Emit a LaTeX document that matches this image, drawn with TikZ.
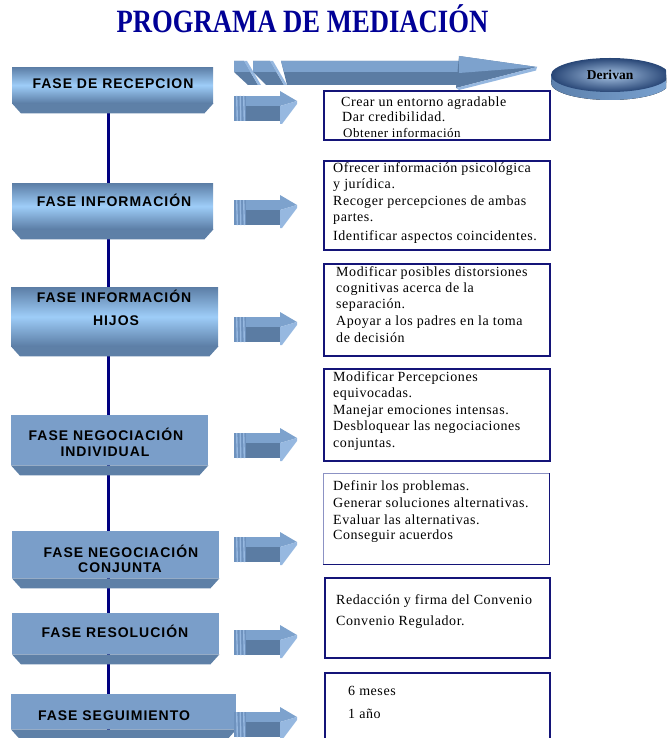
\documentclass[tikz,border=0pt]{standalone}
\usepackage{fontspec}
\setmainfont{Liberation Serif}
\newfontfamily\phasefont{Liberation Sans}[LetterSpace=7]
\newfontfamily\notefont{Liberation Serif}[LetterSpace=4]
\usetikzlibrary{backgrounds,shapes.geometric}

\definecolor{navyline}{RGB}{0,0,128}
\definecolor{titleblue}{RGB}{0,0,150}
\definecolor{slabdark}{RGB}{92,126,166}
\definecolor{slablight}{RGB}{158,205,248}
\definecolor{slabflat}{RGB}{122,158,201}
\definecolor{bevelcol}{RGB}{94,128,167}
\definecolor{arrlight}{RGB}{125,162,205}
\definecolor{arrmid}{RGB}{110,146,190}
\definecolor{arrdark}{RGB}{91,124,163}
\definecolor{arrpale}{RGB}{150,184,224}
\definecolor{boxline}{RGB}{20,20,120}
\definecolor{boxsoft}{RGB}{140,146,196}
\definecolor{discdark}{RGB}{40,70,118}
\definecolor{disclight}{RGB}{168,196,228}
\definecolor{discside}{RGB}{122,162,208}
\definecolor{discsidedark}{RGB}{92,128,172}

\tikzset{
  slab/.style={inner sep=0pt, anchor=north west},
  glossy/.style={slab, top color=slabdark, bottom color=slabdark, middle color=slablight},
  flat/.style={slab, fill=slabflat},
  phaselabel/.style={inner sep=0pt, text height=10pt, text depth=0pt,
    font=\phasefont\bfseries\fontsize{14}{16}\selectfont},
  infobox/.style={draw=boxline, line width=1.6pt, inner sep=0pt, anchor=north west},
  note/.style={anchor=west, inner sep=0pt, text height=9.5pt, text depth=0pt,
    font=\notefont\fontsize{14}{16}\selectfont},
  spine/.style={navyline, line width=3pt},
  pics/fatarrow/.style={code={
    \fill[arrmid] (0,0) rectangle (12,25);
    \foreach \s in {2,5.5,9} \fill[arrpale] (\s,0) -- ++(1.4,0) -- ++(0.6,25) -- ++(-1.4,0) -- cycle;
    \fill[arrlight] (12,0) rectangle (46,10);
    \fill[arrdark] (12,10) rectangle (46,25);
    \fill[arrlight] (46,-5) -- (63,5) -- (46,10) -- cycle;
    \fill[arrpale] (46,10) -- (63,5) -- (63,8) -- (48,28) -- (46,28) -- cycle;
  }}
}

% draws the bevelled lower edge under a phase slab
\newcommand{\slabbevel}[1]{%
  \fill[bevelcol] (#1.south west) -- (#1.south east)
    -- ([xshift=-9pt,yshift=-10pt]#1.south east)
    -- ([xshift=9pt,yshift=-10pt]#1.south west) -- cycle;}

\begin{document}
\begin{tikzpicture}[x=1pt,y=-1pt]
\useasboundingbox (0,0) rectangle (666,738);
\clip (0,0) rectangle (666,738);

% title
\node[inner sep=0pt, text height=21.5pt, text depth=0pt, text=titleblue] (title) at (302.5,21.7)
  {\scalebox{0.82}[1]{\fontsize{32.5}{36}\selectfont\bfseries PROGRAMA DE MEDIACIÓN}};

% phase slabs
\node[glossy, minimum width=201pt, minimum height=36pt] (p1) at (12,67) {};
\node[glossy, minimum width=201pt, minimum height=46pt] (p2) at (12,183) {};
\node[glossy, minimum width=207pt, minimum height=59pt] (p3) at (11,287) {};
\node[flat, minimum width=197pt, minimum height=50pt] (p4) at (11,415) {};
\node[flat, minimum width=207pt, minimum height=47pt] (p5) at (12,531) {};
\node[flat, minimum width=207pt, minimum height=41pt] (p6) at (12,613) {};
\node[flat, minimum width=225pt, minimum height=35pt] (p7) at (11,694) {};
\foreach \p in {p1,p2,p3,p4,p5,p6,p7} {\slabbevel{\p}}

% vertical spine behind the slabs
\coordinate (spinetop) at (108,113);
\coordinate (spineend) at (108,738);
\begin{scope}[on background layer]
  \draw[spine] (spinetop) -- (spineend);
\end{scope}

% phase labels
\node[phaselabel] (l1) at (113,84) {FASE DE RECEPCION};
\node[phaselabel] (l2) at (114,201) {FASE INFORMACIÓN};
\node[phaselabel] (l3a) at (114,297) {FASE INFORMACIÓN};
\node[phaselabel] (l3b) at (116,320) {HIJOS};
\node[phaselabel] (l4a) at (106,435) {FASE NEGOCIACIÓN};
\node[phaselabel] (l4b) at (105,451) {INDIVIDUAL};
\node[phaselabel] (l5a) at (121,552) {FASE NEGOCIACIÓN};
\node[phaselabel] (l5b) at (120,567) {CONJUNTA};
\node[phaselabel] (l6) at (115,632) {FASE RESOLUCIÓN};
\node[phaselabel] (l7) at (114,715) {FASE SEGUIMIENTO};

% small block arrows
\foreach \y in {96,200,317,433,537,630,712} {\pic at (234,\y) {fatarrow};}

% long arrow at the top
\fill[arrdark] (234,61) -- (244,61) -- (258,85) -- (248,85) -- (234,72) -- cycle;
\fill[arrlight] (234,61) -- (244,61) -- (250.5,72) -- (234,72) -- cycle;
\fill[arrpale] (244,61) -- (247,61) -- (261,85) -- (258,85) -- cycle;
\fill[arrdark] (253,61) -- (270,61) -- (284,85) -- (266,85) -- (253,72) -- cycle;
\fill[arrlight] (253,61) -- (270,61) -- (276.5,72) -- (253,72) -- cycle;
\fill[arrpale] (270,61) -- (273,61) -- (287,85) -- (284,85) -- cycle;
\fill[arrdark] (281,61) -- (461,61) -- (461,85) -- (287,85) -- cycle;
\fill[arrlight] (281,61) -- (461,61) -- (461,72) -- (284,72) -- cycle;
\fill[arrdark] (459,56) -- (537,67) -- (456,88) -- cycle;
\fill[arrlight] (459,56) -- (537,67) -- (459,73) -- cycle;
\fill[arrpale] (456,88) -- (537,67) -- (536,70.5) -- (459,90) -- cycle;

% Derivan disc: side band, then the shaded top face
\fill[left color=discsidedark, right color=discside] (551,75) rectangle (669,83);
\fill[left color=discsidedark, right color=discside] (610,83) ellipse [x radius=59, y radius=17];
\node[ellipse, inner sep=0pt, minimum width=118pt, minimum height=34pt,
      inner color=disclight, outer color=discdark,
      font=\bfseries\fontsize{13.5}{15}\selectfont] (derivan) at (610,75) {Derivan};

% text boxes
\node[infobox, minimum width=226pt, minimum height=49pt] (n1) at (323,90) {};
\node[infobox, minimum width=226pt, minimum height=89pt] (n2) at (323,160) {};
\node[infobox, minimum width=226pt, minimum height=92pt] (n3) at (323,263) {};
\node[infobox, minimum width=226pt, minimum height=92pt] (n4) at (323,368) {};
\node[inner sep=0pt, anchor=north west, minimum width=226pt, minimum height=91pt] (n5) at (323,473) {};
\draw[boxsoft, line width=0.8pt] (n5.south west) -- (n5.north west) -- (n5.north east);
\draw[boxline, line width=1.6pt] (n5.north east) -- (n5.south east) -- (n5.south west);
\node[infobox, minimum width=225pt, minimum height=80pt] (n6) at (324,577) {};
\node[infobox, minimum width=225pt, minimum height=66pt] (n7) at (324,672) {};

% box texts
\node[note] (t11) at (341,102) {Crear un entorno agradable};
\node[note] (t12) at (342,117) {Dar credibilidad.};
\node[note, font=\notefont\fontsize{13}{15}\selectfont] (t13) at (343,133) {Obtener información};

\node[note] (t21) at (333,168) {Ofrecer información psicológica};
\node[note] (t22) at (333,184) {y jurídica.};
\node[note] (t23) at (333,201) {Recoger percepciones de ambas};
\node[note] (t24) at (333,217) {partes.};
\node[note] (t25) at (333,236) {Identificar aspectos coincidentes.};

\node[note] (t31) at (336,272) {Modificar posibles distorsiones};
\node[note] (t32) at (336,288) {cognitivas acerca de la};
\node[note] (t33) at (336,304) {separación.};
\node[note] (t34) at (336,321) {Apoyar a los padres en la toma};
\node[note] (t35) at (336,338) {de decisión};

\node[note] (t41) at (333,377) {Modificar Percepciones};
\node[note] (t42) at (333,393) {equivocadas.};
\node[note] (t43) at (333,410) {Manejar emociones intensas.};
\node[note] (t44) at (333,426) {Desbloquear las negociaciones};
\node[note] (t45) at (333,443) {conjuntas.};

\node[note] (t51) at (333,486) {Definir los problemas.};
\node[note] (t52) at (333,503) {Generar soluciones alternativas.};
\node[note] (t53) at (333,520) {Evaluar las alternativas.};
\node[note] (t54) at (333,535) {Conseguir acuerdos};

\node[note] (t61) at (336,600) {Redacción y firma del Convenio};
\node[note] (t62) at (336,621) {Convenio Regulador.};

\node[note] (t71) at (348,691) {6 meses};
\node[note] (t72) at (348,714) {1 año};

% redraw the first box edge over the clipped line
\draw[boxline, line width=1.6pt] (n1.south west) -- (n1.south east);
\end{tikzpicture}
\end{document}
